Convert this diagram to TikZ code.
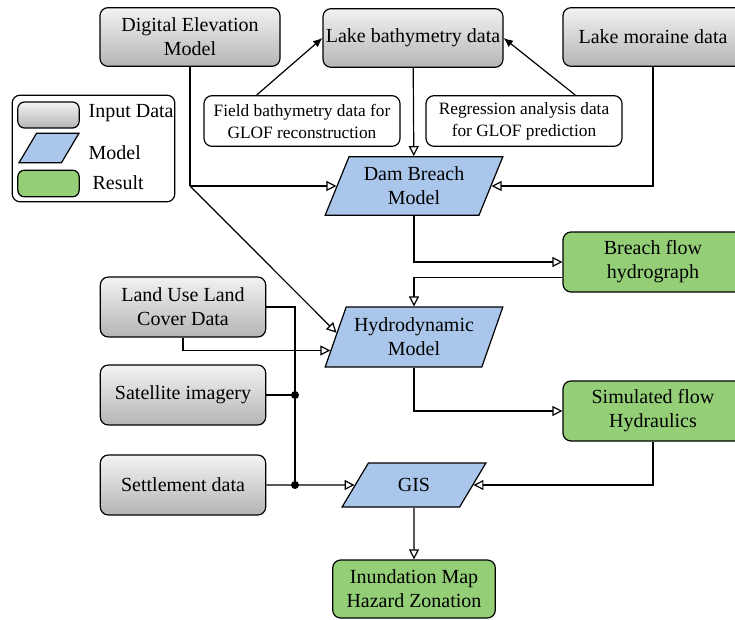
\documentclass[tikz,border=0pt]{standalone}
\usepackage{fontspec}
\setmainfont{Liberation Serif}
\usepackage{tikz}
\usetikzlibrary{positioning, arrows.meta, shapes.geometric, calc}
\usepackage{xcolor}
\definecolor{modelblue}{RGB}{170,198,235}
\definecolor{resultgreen}{RGB}{148,207,120}

\begin{document}
\begin{tikzpicture}[
    x=0.75pt, y=-0.75pt,
    line width=0.9pt,
    font=\fontsize{15}{18}\selectfont,
    inbox/.style={draw, rounded corners=6pt, align=center, top color=gray!10, bottom color=gray!58, minimum width=135pt, minimum height=44pt, inner sep=2pt},
    sidebox/.style={inbox, minimum width=124pt, minimum height=45pt},
    notebox/.style={draw, rounded corners=6pt, align=center, fill=white, minimum width=147pt, minimum height=38pt, inner sep=1pt, font=\fontsize{13}{16.5}\selectfont},
    modelbox/.style={draw, trapezium, trapezium left angle=65, trapezium right angle=115, trapezium stretches=true, fill=modelblue, align=center, minimum width=133.5pt, minimum height=44pt, inner sep=1pt},
    resultbox/.style={draw, rounded corners=6pt, align=center, fill=resultgreen, minimum width=135pt, minimum height=45pt, inner sep=2pt},
    arrow/.style={-{Triangle[open, length=7.5pt, width=7.5pt]}},
    fillarrow/.style={-{Latex[length=7pt, width=6pt]}},
    dot/.style={circle, fill, inner sep=0pt, minimum size=6pt}
]
    \clip (0,0) rectangle (735,620);

    % Input data
    \node[inbox] (dem) at (190,37) {Digital Elevation\\Model};
    \node[inbox] (bathy) at (413,38) {Lake bathymetry data};
    \node[inbox] (moraine) at (653,37) {Lake moraine data};
    \node[sidebox] (lulc) at (183,307) {Land Use Land\\Cover Data};
    \node[sidebox] (sat) at (183,395) {Satellite imagery};
    \node[sidebox] (settle) at (183,485) {Settlement data};

    % Bathymetry sources
    \node[notebox] (field) at (302,121) {Field bathymetry data for\\GLOF reconstruction};
    \node[notebox] (regress) at (524,121) {Regression analysis data\\for GLOF prediction};

    % Models
    \node[modelbox] (dam) at (414,186) {Dam Breach\\Model};
    \node[modelbox, minimum height=45pt] (hydro) at (414,337) {Hydrodynamic\\Model};
    \node[modelbox, trapezium left angle=58, trapezium right angle=122, minimum width=108pt, minimum height=33pt] (gis) at (414,485) {GIS};

    % Results
    \node[resultbox] (breach) at (653,262) {Breach flow\\hydrograph};
    \node[resultbox] (sim) at (653,411) {Simulated flow\\Hydraulics};
    \node[resultbox, minimum width=122pt, minimum height=43.5pt] (inund) at (414,589) {Inundation Map\\Hazard Zonation};

    % Legend
    \node[draw, rounded corners=6pt, minimum width=122pt, minimum height=80pt] (legend) at (93.5,148.5) {};
    \node[draw, rounded corners=5pt, top color=gray!10, bottom color=gray!58, minimum width=46pt, minimum height=19.5pt] (lgin) at (48.5,115) {};
    \node[draw, trapezium, trapezium left angle=55, trapezium right angle=125, trapezium stretches=true, fill=modelblue, minimum width=45pt, minimum height=22pt] (lgmodel) at (49,148) {};
    \node[draw, rounded corners=5pt, fill=resultgreen, minimum width=46pt, minimum height=20pt] (lgres) at (48.5,183.5) {};
    \node[anchor=west, inner sep=0pt] (lgintext) at (88,113) {Input Data};
    \node[anchor=west, inner sep=0pt] (lgmodeltext) at (88,153) {Model};
    \node[anchor=west, inner sep=0pt] (lgrestext) at (92,183) {Result};

    % Junctions
    \coordinate (demk) at (dem.south |- dam.west);
    \coordinate (jsat) at (295,395);
    \coordinate (jset) at (295,485);
    \coordinate (hydtop) at ($(hydro.top left corner)!0.43!(hydro.bottom left corner)$);
    \coordinate (hydlow) at ($(hydro.top left corner)!0.72!(hydro.bottom left corner)$);
    \coordinate (breachlow) at ($(breach.north west)!0.75!(breach.south west)$);

    % Arrows
    \draw[fillarrow] ($(field.north west)!0.27!(field.north east)$) -- (bathy.west);
    \draw[fillarrow] ($(regress.north west)!0.76!(regress.north east)$) -- (bathy.east);
    \draw[arrow] (bathy) -- (dam);
    \draw[arrow] (moraine.south) |- (dam.east);
    \draw (dem.south) -- (demk);
    \draw[arrow] (demk) -- (dam.west);
    \draw[arrow] (demk) -- (hydtop);
    \draw[arrow] (dam.south) |- (breach.west);
    \draw[arrow] (breachlow) -| (hydro.north);
    \draw[arrow] (lulc.south) |- (hydlow);
    \draw[arrow] (hydro.south) |- (sim.west);
    \draw (lulc.east) -| (jset);
    \draw (sat.east) -- (jsat);
    \draw[arrow] (settle.east) -- (gis.west);
    \draw[arrow] (sim.south) |- (gis.east);
    \draw[arrow] (gis) -- (inund);
    \node[dot] (dsat) at (jsat) {};
    \node[dot] (dset) at (jset) {};

\end{tikzpicture}
\end{document}
